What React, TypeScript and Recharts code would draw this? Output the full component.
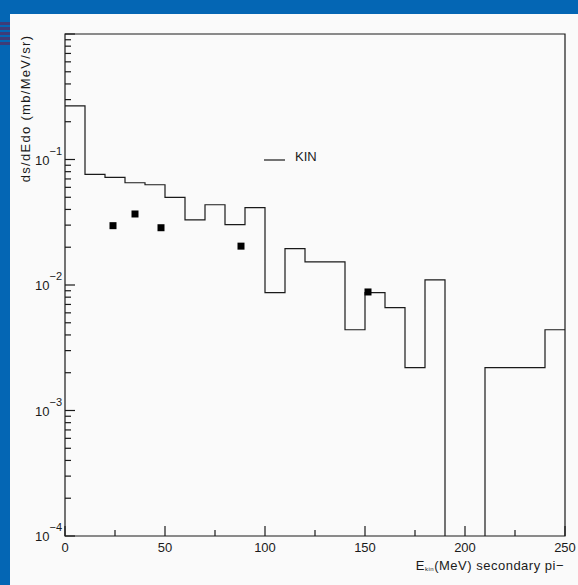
import React from "react";
import {
  ComposedChart,
  Line,
  Scatter,
  XAxis,
  YAxis,
  ReferenceArea,
  Legend,
} from "recharts";

// Histogram bins (lower edge, MeV) and contents (mb/MeV/sr)
const binEdges = [0, 10, 20, 30, 40, 50, 60, 70, 80, 90, 100, 110, 120, 130, 140, 150, 160, 170, 180, 190, 200, 210, 220, 230, 240];
const kinValues = [0.267, 0.0761, 0.072, 0.0653, 0.0629, 0.0499, 0.033, 0.0436, 0.0303, 0.0413, 0.0087, 0.0195, 0.0153, 0.0153, 0.0044, 0.0087, 0.0066, 0.0022, 0.011, 0, 0, 0.0022, 0.0022, 0.0022, 0.0044];
const xMax = 250;

// Experimental points
const expX = [24, 35, 48, 88, 151.5];
const expY = [0.0297, 0.0368, 0.0286, 0.0204, 0.0088];

const xTicks = [0, 25, 50, 75, 100, 125, 150, 175, 200, 225, 250];
const xMajorTicks = [0, 50, 100, 150, 200, 250];
const yDecades = [-4, -3, -2, -1, 0];
const yMajorLabels = ["−4", "−3", "−2", "−1"];

const LOG_FLOOR = 1e-6; // empty bins drawn below the axis floor

const histData = [
  ...binEdges.map((x, i) => ({ x, y: kinValues[i] > 0 ? kinValues[i] : LOG_FLOOR })),
  { x: xMax, y: kinValues[kinValues.length - 1] },
];
const pointData = expX.map((x, i) => ({ x, y: expY[i] }));

const yTicks: number[] = [];
yDecades.forEach((d) => {
  if (d === 0) {
    yTicks.push(1);
    return;
  }
  for (let m = 1; m <= 9; m++) yTicks.push(Number((m * Math.pow(10, d)).toPrecision(3)));
});

const FONT = "'Liberation Sans', Arial, Helvetica, sans-serif";
const INK = "#1a1a1a";

const YTick = (props: any) => {
  const { x, y, payload } = props;
  const v = payload.value as number;
  const exp = Math.log10(v);
  const isMajor = Math.abs(exp - Math.round(exp)) < 1e-6;
  const idx = yDecades.indexOf(Math.round(exp));
  const label = isMajor && idx >= 0 && idx < yMajorLabels.length ? yMajorLabels[idx] : null;
  return (
    <g>
      <line x1={x} x2={x + (isMajor ? 10 : 6)} y1={y} y2={y} stroke={INK} strokeWidth={1.2} />
      {label && (
        <text x={x - 3} y={y + 5} textAnchor="end" fontFamily={FONT} fontSize={13} fill={INK}>
          <tspan>10</tspan>
          <tspan dy={-10} fontSize={11}>{label}</tspan>
        </text>
      )}
    </g>
  );
};

const XTick = (props: any) => {
  const { x, y, payload } = props;
  const v = payload.value as number;
  const isMajor = xMajorTicks.includes(v);
  return (
    <g>
      <line x1={x} x2={x} y1={y} y2={y - (isMajor ? 10 : 6)} stroke={INK} strokeWidth={1.2} />
      {isMajor && (
        <text x={x} y={y + 16} textAnchor="middle" fontFamily={FONT} fontSize={13} fill={INK}>
          {v}
        </text>
      )}
    </g>
  );
};

const Square = (props: any) => {
  const { cx, cy } = props;
  if (cx == null || cy == null) return null;
  return <rect x={cx - 3.5} y={cy - 3.5} width={7} height={7} fill="#000" />;
};

const LegendBox = () => (
  <svg width={80} height={20} style={{ display: "block", overflow: "visible" }}>
    <line x1={0} x2={21} y1={13} y2={13} stroke={INK} strokeWidth={1.2} />
    <text x={31} y={14} fontFamily={FONT} fontSize={13} fill={INK}>KIN</text>
  </svg>
);

export default function App() {
  return (
    <div
      style={{
        position: "fixed",
        left: 0,
        top: 0,
        width: 578,
        height: 585,
        background: "#0466b4",
        overflow: "hidden",
      }}
    >
      <div
        style={{
          position: "absolute",
          left: 0,
          top: 22,
          width: 10,
          height: 25,
          background:
            "repeating-linear-gradient(to bottom, #3e3c78 0px, #3e3c78 3px, #0466b4 3px, #0466b4 5px)",
        }}
      />
      <div
        style={{
          position: "absolute",
          left: 10,
          top: 14,
          width: 568,
          height: 571,
          background: "#fafafa",
        }}
      >
        <ComposedChart
          width={568}
          height={571}
          margin={{ top: 20, right: 13, bottom: 0, left: 0 }}
        >
          <XAxis
            dataKey="x"
            type="number"
            domain={[0, xMax]}
            ticks={xTicks}
            interval={0}
            allowDataOverflow
            axisLine={false}
            tickLine={false}
            tickSize={0}
            tickMargin={0}
            height={49}
            tick={<XTick />}
            label={{
              content: (p: any) => {
                const vb = p.viewBox || { x: 55, y: 522, width: 500 };
                return (
                  <text
                    x={vb.x + vb.width - 1}
                    y={vb.y + 33.5}
                    textAnchor="end"
                    fontFamily={FONT}
                    fontSize={13}
                    letterSpacing={0.5}
                    fill={INK}
                  >
                    <tspan>E</tspan>
                    <tspan fontSize={6} dy={1}>kin</tspan>
                    <tspan dy={-1}>(MeV) secondary pi−</tspan>
                  </text>
                );
              },
            }}
          />
          <YAxis
            dataKey="y"
            type="number"
            scale="log"
            domain={[1e-4, 1]}
            ticks={yTicks}
            interval={0}
            allowDataOverflow
            axisLine={false}
            tickLine={false}
            tickSize={0}
            tickMargin={0}
            width={55}
            tick={<YTick />}
            label={{
              content: () => (
                <text
                  x={20}
                  y={94.5}
                  transform="rotate(-90 20 94.5)"
                  textAnchor="middle"
                  fontFamily={FONT}
                  fontSize={13}
                  letterSpacing={1.3}
                  fill={INK}
                >
                  ds/dEdo (mb/MeV/sr)
                </text>
              ),
            }}
          />
          <ReferenceArea
            x1={0}
            x2={xMax}
            y1={1e-4}
            y2={1}
            fill="none"
            fillOpacity={0}
            stroke={INK}
            strokeWidth={1.2}
            ifOverflow="visible"
          />
          <Line
            data={histData}
            dataKey="y"
            type="stepAfter"
            stroke={INK}
            strokeWidth={1.2}
            dot={false}
            activeDot={false}
            isAnimationActive={false}
            name="KIN"
          />
          <Scatter
            data={pointData}
            dataKey="y"
            shape={<Square />}
            isAnimationActive={false}
            legendType="none"
          />
          <Legend
            layout="horizontal"
            verticalAlign="middle"
            align="center"
            content={() => <LegendBox />}
            wrapperStyle={{ position: "absolute", left: 254, top: 133, width: 80, height: 20 }}
          />
        </ComposedChart>
      </div>
    </div>
  );
}
